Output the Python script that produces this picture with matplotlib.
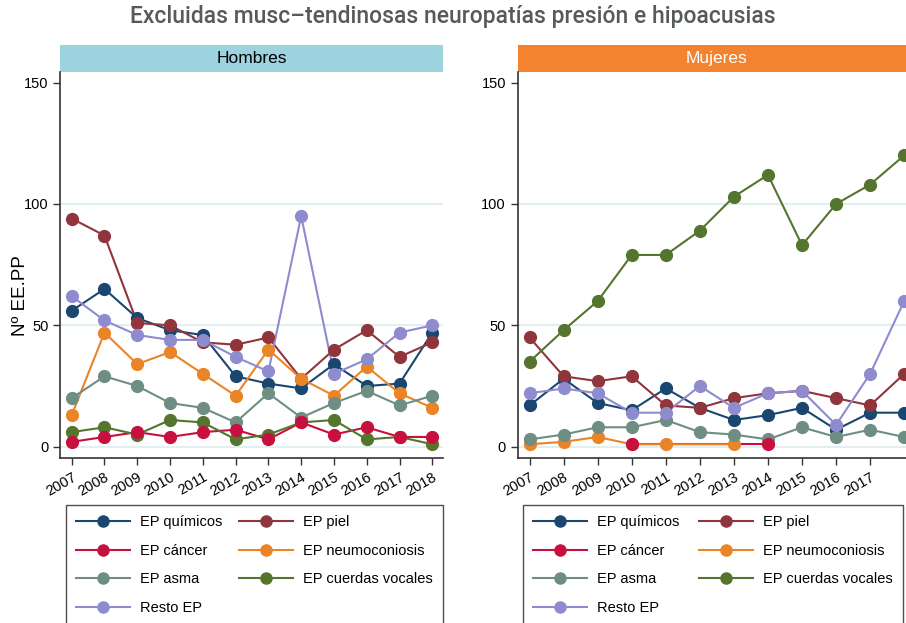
import numpy as np
import matplotlib
matplotlib.use("Agg")
import matplotlib.pyplot as plt
from matplotlib.lines import Line2D
from matplotlib.patches import Rectangle

plt.rcParams['font.family'] = ['Liberation Sans', 'DejaVu Sans']

years = list(range(2007, 2019))
nan = np.nan

series = ['EP químicos', 'EP piel', 'EP cáncer', 'EP neumoconiosis',
          'EP asma', 'EP cuerdas vocales', 'Resto EP']
colors = ['#1a476f', '#90353b', '#c8103f', '#ea8427',
          '#6e8e84', '#55752f', '#8f8bcf']

# Hombres
h_quimicos = [56, 65, 53, 48, 46, 29, 26, 24, 34, 25, 26, 47]
h_piel = [94, 87, 51, 50, 43, 42, 45, 28, 40, 48, 37, 43]
h_cancer = [2, 4, 6, 4, 6, 7, 3, 10, 5, 8, 4, 4]
h_neumo = [13, 47, 34, 39, 30, 21, 40, 28, 21, 33, 22, 16]
h_asma = [20, 29, 25, 18, 16, 10, 22, 12, 18, 23, 17, 21]
h_cuerdas = [6, 8, 5, 11, 10, 3, 5, 10, 11, 3, 4, 1]
h_resto = [62, 52, 46, 44, 44, 37, 31, 95, 30, 36, 47, 50]

# Mujeres
m_quimicos = [17, 28, 18, 15, 24, 16, 11, 13, 16, 7, 14, 14]
m_piel = [45, 29, 27, 29, 17, 16, 20, 22, 23, 20, 17, 30]
m_cancer = [nan, nan, nan, 1, nan, nan, nan, 1, nan, nan, nan, nan]
m_neumo = [1, 2, 4, 1, 1, nan, 1, nan, nan, nan, nan, nan]
m_asma = [3, 5, 8, 8, 11, 6, 5, 3, 8, 4, 7, 4]
m_cuerdas = [35, 48, 60, 79, 79, 89, 103, 112, 83, 100, 108, 120]
m_resto = [22, 24, 22, 14, 14, 25, 16, 22, 23, 9, 30, 60]

hombres = [h_quimicos, h_piel, h_cancer, h_neumo, h_asma, h_cuerdas, h_resto]
mujeres = [m_quimicos, m_piel, m_cancer, m_neumo, m_asma, m_cuerdas, m_resto]

W, H = 906, 623
fig = plt.figure(figsize=(W / 100, H / 100), dpi=100)

ax_h = fig.add_axes([60.3 / W, 1 - 458 / H, 382.7 / W, 386.3 / H])
ax_m = fig.add_axes([517.7 / W, 1 - 458 / H, 397.6 / W, 386.3 / H])

xlim = (2006.652, 2018.326)
ylim = (-4.66, 154.5)


def draw(ax, data, title, band, tcolor, xt):
    for vals, name, c in zip(data, series, colors):
        v = np.array(vals, dtype=float)
        ok = ~np.isnan(v)
        x = np.array(years)[ok]
        y = v[ok]
        ax.plot(x, y, color=c, lw=1.5, zorder=2, solid_capstyle='round')
        zm = 4 if name == 'EP cáncer' else 3
        ax.plot(x, y, 'o', color=c, ms=8.5, mec=c, zorder=zm)
    ax.set_xlim(*xlim)
    ax.set_ylim(*ylim)
    ax.set_xticks(xt)
    ax.set_xticklabels([str(y) for y in xt], rotation=30, ha='right',
                       rotation_mode='anchor', fontsize=10.5)
    ax.set_yticks([0, 50, 100, 150])
    ax.tick_params(axis='y', labelsize=10.5, length=5, width=1, color='#333333')
    ax.tick_params(axis='x', length=5, width=1, color='#333333')
    ax.grid(axis='y', color='#e2eeef', lw=1.5, zorder=0)
    ax.get_ygridlines()[-1].set_visible(False)
    ax.set_axisbelow(True)
    for s in ['top', 'right']:
        ax.spines[s].set_visible(False)
    for s in ['left', 'bottom']:
        ax.spines[s].set_color('#333333')
        ax.spines[s].set_linewidth(1.2)
    ax.add_patch(Rectangle((0, 1), 1, 26.7 / 386.3, transform=ax.transAxes,
                           facecolor=band, edgecolor='none', clip_on=False))
    ax.text(0.5, 1 + 13.3 / 386.3, title, transform=ax.transAxes,
            ha='center', va='center', fontsize=12.5, color=tcolor)


draw(ax_h, hombres, 'Hombres', '#9dd2df', 'black', years)
draw(ax_m, mujeres, 'Mujeres', '#f3832e', 'white', years[:-1])

ax_h.set_ylabel('Nº EE.PP', fontsize=13.5)
ax_h.yaxis.set_label_coords(-(60.3 - 29) / 382.7, 0.42)

handles = [Line2D([], [], color=c, lw=1.5, marker='o', ms=8) for c in colors]
order = [0, 2, 4, 6, 1, 3, 5]

for x0, cs in [(66, 1.1), (523, 1.3)]:
    leg = fig.legend([handles[i] for i in order], [series[i] for i in order],
                     loc='upper left', ncol=2,
                     bbox_to_anchor=(x0 / W, 1 - 505 / H),
                     fontsize=10.5, handlelength=3.7, labelspacing=1.0,
                     borderpad=0.7, handletextpad=0.7, columnspacing=cs,
                     borderaxespad=0, fancybox=False, frameon=True)
    leg.get_frame().set_edgecolor('#222222')
    leg.get_frame().set_linewidth(1.0)

fig.text(0.5, 1 - 17 / H, 'Excluidas musc–tendinosas neuropatías presión e hipoacusias',
         ha='center', va='center', fontsize=16.5, color='#555a5a',
         family='Roboto', fontweight='medium')

fig.savefig('out.png', dpi=100)
